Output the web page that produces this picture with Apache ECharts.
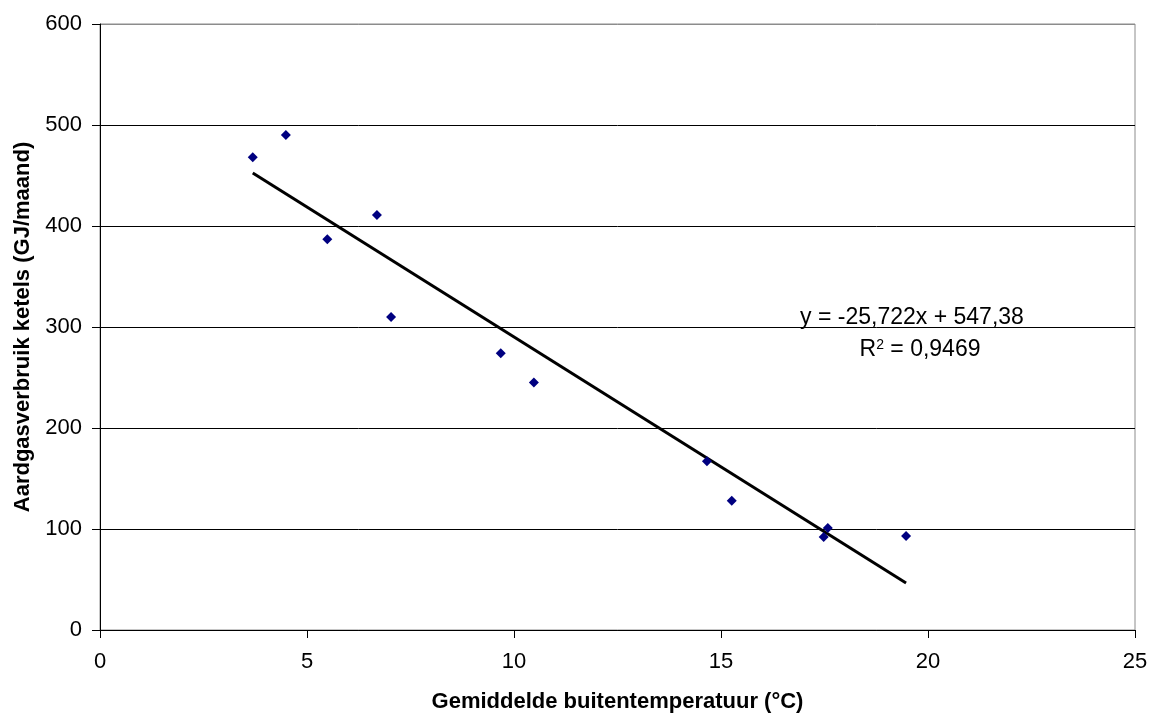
<!DOCTYPE html>
<html>
<head>
<meta charset="utf-8">
<script src="https://cdn.jsdelivr.net/npm/echarts@6/dist/echarts.min.js"></script>
<style>
  html, body { margin: 0; padding: 0; background: #fff; }
  #chart { width: 1156px; height: 718px; }
</style>
</head>
<body>
<div id="chart"></div>
<script>
// Monthly mean outdoor temperature (°C) and boiler natural gas use (GJ/month)
const temperatures = [3.69, 4.49, 5.49, 6.69, 7.03, 9.68, 10.48, 14.66, 15.26, 17.48, 17.58, 19.47];
const gasUse       = [468, 490, 387, 411, 310, 274, 245, 167, 128, 92, 101, 93];

// Linear trend line coefficients
const slope = -25.722;
const intercept = 547.38;
const rSquared = '0,9469';
const equationText = 'y = -25,722x + 547,38';

const xTicks = { min: 0, max: 25, interval: 5 };
const yTicks = { min: 0, max: 600, interval: 100 };

const points = temperatures.map((t, i) => [t, gasUse[i]]);
const xMin = Math.min(...temperatures);
const xMax = Math.max(...temperatures);
const trend = [[xMin, slope * xMin + intercept], [xMax, slope * xMax + intercept]];

const fontFamily = '"Liberation Sans", Arial, sans-serif';
const chart = echarts.init(document.getElementById('chart'), null, { renderer: 'canvas' });

chart.setOption({
  animation: false,
  backgroundColor: '#fff',
  grid: {
    left: 100, right: 21, top: 24, bottom: 87,
    show: true, borderColor: '#8c8c8c', borderWidth: 1, backgroundColor: 'transparent'
  },
  xAxis: {
    type: 'value',
    min: xTicks.min, max: xTicks.max, interval: xTicks.interval,
    name: 'Gemiddelde buitentemperatuur (°C)',
    nameLocation: 'middle', nameGap: 61,
    nameTextStyle: { fontFamily, fontSize: 22, fontWeight: 'bold', color: '#000' },
    axisLine: { show: true, lineStyle: { color: '#000', width: 1 } },
    axisTick: { show: true, length: 8, lineStyle: { color: '#000' } },
    axisLabel: { fontFamily, fontSize: 22, color: '#000', margin: 21 },
    splitLine: { show: false }
  },
  yAxis: {
    type: 'value',
    min: yTicks.min, max: yTicks.max, interval: yTicks.interval,
    name: 'Aardgasverbruik ketels (GJ/maand)',
    nameLocation: 'middle', nameGap: 64,
    nameTextStyle: { fontFamily, fontSize: 22, fontWeight: 'bold', color: '#000' },
    axisLine: { show: true, lineStyle: { color: '#000', width: 1 } },
    axisTick: { show: true, length: 8, lineStyle: { color: '#000' } },
    axisLabel: { fontFamily, fontSize: 22, color: '#000', margin: 18 },
    splitLine: {
      show: true,
      lineStyle: { color: ['#000', '#000', '#000', '#000', '#000', '#000', '#8c8c8c'], width: 1 }
    }
  },
  series: [
    {
      type: 'line',
      data: trend,
      symbol: 'none',
      lineStyle: { color: '#000', width: 3 },
      z: 2,
      silent: true
    },
    {
      type: 'scatter',
      data: points,
      symbol: 'diamond',
      symbolSize: 10,
      itemStyle: { color: '#000080', opacity: 1 },
      z: 3
    }
  ],
  graphic: [
    {
      type: 'text',
      x: 912, y: 306,
      style: { text: equationText, fontFamily, fontSize: 23, fill: '#000', align: 'center', verticalAlign: 'top' }
    },
    {
      type: 'text',
      x: 920, y: 338,
      style: {
        text: '{b|R}{s|2}{b| = ' + rSquared + '}',
        align: 'center', verticalAlign: 'top',
        fontFamily,
        rich: {
          b: { fontFamily, fontSize: 23, color: '#000' },
          s: { fontFamily, fontSize: 14, color: '#000', verticalAlign: 'top', padding: [0, 0, 9, 0] }
        }
      }
    }
  ]
});
</script>
</body>
</html>
